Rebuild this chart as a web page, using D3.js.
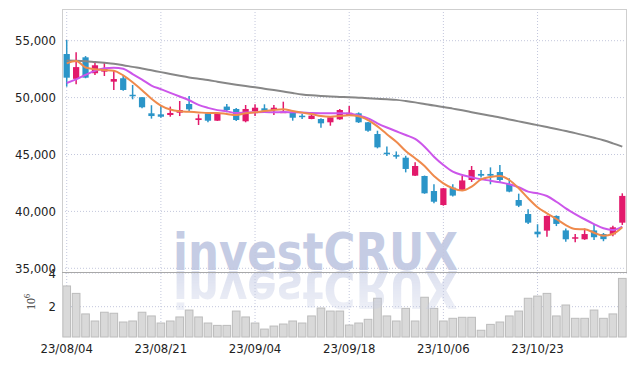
<!DOCTYPE html>
<html><head><meta charset="utf-8">
<script src="https://cdn.jsdelivr.net/npm/d3@7/dist/d3.min.js"></script>
<style>
html,body{margin:0;padding:0;background:#fff;}
svg{display:block;}
.lbl{font-family:"DejaVu Sans Condensed","DejaVu Sans",sans-serif;font-stretch:condensed;font-size:13px;fill:#222;}
</style></head><body>
<svg id="chart" width="635" height="366"></svg>
<script>
const dates = ["23/08/04","23/08/07","23/08/08","23/08/09","23/08/10","23/08/11","23/08/14","23/08/16","23/08/17","23/08/18",
"23/08/21","23/08/22","23/08/23","23/08/24","23/08/25","23/08/28","23/08/29","23/08/30","23/08/31","23/09/01",
"23/09/04","23/09/05","23/09/06","23/09/07","23/09/08","23/09/11","23/09/12","23/09/13","23/09/14","23/09/15",
"23/09/18","23/09/19","23/09/20","23/09/21","23/09/22","23/09/25","23/09/26","23/09/27","23/10/04","23/10/05",
"23/10/06","23/10/10","23/10/11","23/10/12","23/10/13","23/10/16","23/10/17","23/10/18","23/10/19","23/10/20",
"23/10/23","23/10/24","23/10/25","23/10/26","23/10/27","23/10/30","23/10/31","23/11/01","23/11/02","23/11/03"];

const opens  = [53830,51650,53540,52140,52280,51400,51700,50250,50030,48620,48530,48470,48670,49440,48030,48620,47970,49210,49000,47920,
48820,49060,48910,48710,48670,48410,48120,48120,47830,48090,48470,48620,47830,46800,45160,44950,44720,43140,43110,41790,
40560,42090,41880,42760,43290,43290,43460,42410,41000,39770,38220,38310,39600,38330,37610,37550,38330,38010,37980,39010];
const highs  = [55060,53980,53650,53220,53110,52340,51900,51110,50050,49330,49330,49210,49700,50140,48530,48700,48650,49440,49090,49350,
49410,49410,49350,49640,48700,48560,48700,48180,48290,49000,49260,48700,47850,47090,45710,45270,44890,44310,43150,42380,
42060,42380,43110,43990,43640,43870,44080,42910,41560,40180,38870,39650,39650,38500,38010,38500,38900,38100,38740,41590];
const lows   = [50960,51170,51700,51990,51900,50670,50600,49850,49060,48150,48230,48320,48380,48820,47590,47830,47950,48710,47950,47830,
48380,48790,48470,48670,47970,48120,48100,47350,47530,48050,48440,47770,47000,45540,44870,44630,43430,43100,41550,40710,
40500,41300,41860,42590,42970,42380,42590,41680,40380,38890,37730,37780,38710,37340,37280,37500,37490,37380,37810,38810];
const closes = [51750,52680,51750,52840,52570,51630,50670,50170,49150,48380,48320,48650,48910,48970,48180,47970,48620,48910,48030,49000,
49110,48850,49110,48760,48230,48320,48410,47740,48270,48910,48670,47830,47090,45630,45020,44810,43730,43990,41590,40850,
42030,41390,42720,43640,43140,43140,42760,41740,40500,39010,37990,39600,38900,37550,37730,38010,37730,37560,38600,41360];

// volume in millions (axis label 10^6)
const volumes = [3.23,2.79,1.57,1.15,1.67,1.61,1.09,1.15,1.67,1.45,1.03,1.15,1.39,1.80,1.39,1.03,0.89,0.89,1.74,1.39,
1.03,0.67,0.85,0.97,1.15,1.03,1.45,1.92,1.74,1.74,0.91,1.03,1.25,2.50,1.45,1.15,1.90,1.15,2.56,1.90,
1.15,1.31,1.37,1.37,0.60,0.95,1.09,1.45,1.74,2.50,2.63,2.79,1.45,2.10,1.31,1.31,1.80,1.31,1.57,3.68];

const ma5 = [53010,53220,52650,52500,52430,52360,51950,51350,50650,49900,49300,48950,48800,48750,48700,48650,48650,48560,48470,48620,
48710,48820,48910,48970,48820,48680,48560,48380,48320,48380,48440,48370,48030,47470,46780,46120,45300,44670,43990,43110,
42470,42030,41830,42180,42820,43030,43110,42760,42030,41150,40360,39830,39330,38800,38450,38430,38130,37870,38010,38600];
const ma20 = [51280,51600,52000,52350,52570,52630,52530,52070,51580,51060,50740,50420,50100,49770,49360,49100,48900,48790,48640,48680,
48710,48730,48710,48730,48710,48690,48640,48630,48630,48620,48600,48420,48180,47740,47370,47040,46710,46370,45690,44810,
44080,43490,43200,43000,42820,42700,42560,42380,42120,41740,41590,41350,40850,40270,39770,39310,38890,38520,38370,38660];
const ma60 = [53260,53240,53200,53130,53060,52980,52850,52700,52560,52400,52240,52080,51920,51770,51650,51540,51400,51260,51130,51010,
50900,50780,50660,50530,50400,50280,50200,50140,50090,50060,50030,49990,49950,49900,49850,49800,49700,49580,49440,49300,
49180,49030,48880,48720,48560,48400,48250,48080,47910,47740,47580,47410,47240,47060,46880,46680,46470,46250,45980,45690];

const priceTicks = [35000,40000,45000,50000,55000];
const volTicks = [2,4];
const dateTicks = ["23/08/04","23/08/21","23/09/04","23/09/18","23/10/06","23/10/23"];

const svg = d3.select("#chart");
const pLeft = 62, pRight = 627, pTop = 9, pSep = 272, pVolBottom = 337;

const x = d3.scaleBand().domain(dates).range([pLeft, pRight]).paddingInner(0.08).paddingOuter(0.04);
const cx = d => x(d) + x.bandwidth() / 2;
const y = d3.scaleLinear().domain([35000, 55000]).range([268.3, 40.7]);
const yv = d3.scaleLinear().domain([0.2, 4]).range([pVolBottom, 273]);

const defs = svg.append("defs");
defs.append("clipPath").attr("id","pclip").append("rect")
  .attr("x", pLeft).attr("y", pTop).attr("width", pRight-pLeft).attr("height", pSep-pTop);
const grad = defs.append("linearGradient").attr("id","fade").attr("x1",0).attr("y1",0).attr("x2",0).attr("y2",1);
grad.append("stop").attr("offset","0%").attr("stop-color","#fff").attr("stop-opacity",1);
grad.append("stop").attr("offset","100%").attr("stop-color","#fff").attr("stop-opacity",0.4);
defs.append("mask").attr("id","wmask").attr("maskUnits","userSpaceOnUse")
  .attr("x",0).attr("y",271).attr("width",635).attr("height",45)
  .append("rect").attr("x",0).attr("y",271).attr("width",635).attr("height",45).attr("fill","url(#fade)");

const wmFont = "'DejaVu Sans', sans-serif";
// watermark
svg.append("text").text("investCRUX")
  .attr("x", 173).attr("y", 270)
  .attr("textLength", 285).attr("lengthAdjust","spacingAndGlyphs")
  .attr("font-family", wmFont).attr("font-weight","bold")
  .attr("font-size", 51).attr("fill", "#c5cce4");

// gridlines
const grid = svg.append("g").attr("stroke","#c3c7dc").attr("stroke-dasharray","1,2").attr("stroke-width",1);
grid.selectAll("line.h").data(priceTicks).join("line").attr("class","h")
  .attr("x1", pLeft).attr("x2", pRight).attr("y1", d => y(d)).attr("y2", d => y(d));
grid.selectAll("line.v").data(dateTicks).join("line").attr("class","v")
  .attr("x1", d => cx(d)).attr("x2", d => cx(d)).attr("y1", pTop).attr("y2", pVolBottom);
grid.selectAll("line.vv").data(volTicks).join("line").attr("class","vv")
  .attr("x1", pLeft).attr("x2", pRight).attr("y1", d => yv(d)).attr("y2", d => yv(d));

// volume bars
svg.append("g").selectAll("rect").data(volumes).join("rect")
  .attr("x", (d,i) => x(dates[i]) + 0.5)
  .attr("width", x.bandwidth() - 1)
  .attr("y", d => yv(d))
  .attr("height", d => pVolBottom - yv(d))
  .attr("fill", "#d9d9d9").attr("stroke", "#bcbcbc").attr("stroke-width", 1);

// watermark reflection
svg.append("g").attr("mask","url(#wmask)").append("text").text("investCRUX")
  .attr("x", 173).attr("y", 270)
  .attr("transform","translate(0,541) scale(1,-1)")
  .attr("textLength", 285).attr("lengthAdjust","spacingAndGlyphs")
  .attr("font-family", wmFont).attr("font-weight","bold")
  .attr("font-size", 51).attr("fill", "#c5cce4").attr("opacity", 0.6);

// frame
const frame = svg.append("g").attr("stroke","#cfcfcf").attr("stroke-width",1);
frame.append("line").attr("x1",pLeft).attr("x2",pRight).attr("y1",pTop+0.5).attr("y2",pTop+0.5);
frame.append("line").attr("x1",pLeft+0.5).attr("x2",pLeft+0.5).attr("y1",pTop).attr("y2",pVolBottom);
frame.append("line").attr("x1",pRight-0.5).attr("x2",pRight-0.5).attr("y1",pTop).attr("y2",pSep);
svg.append("line").attr("x1",pLeft).attr("x2",pRight).attr("y1",pSep+0.5).attr("y2",pSep+0.5)
  .attr("stroke","#a8a8a8").attr("stroke-width",1);

// candles
const upCol = "#e2196b", downCol = "#2b95c8";
const cg = svg.append("g").attr("clip-path","url(#pclip)");
const idx = d3.range(dates.length);
cg.selectAll("line.w").data(idx).join("line").attr("class","w")
  .attr("x1", i => cx(dates[i])).attr("x2", i => cx(dates[i]))
  .attr("y1", i => y(highs[i])).attr("y2", i => y(lows[i]))
  .attr("stroke", i => closes[i] >= opens[i] ? upCol : downCol).attr("stroke-width", 1.5);
const bw = x.bandwidth() * 0.72;
cg.selectAll("rect.b").data(idx).join("rect").attr("class","b")
  .attr("x", i => cx(dates[i]) - bw/2).attr("width", bw)
  .attr("y", i => y(Math.max(opens[i], closes[i])))
  .attr("height", i => Math.max(1.5, Math.abs(y(opens[i]) - y(closes[i]))))
  .attr("fill", i => closes[i] >= opens[i] ? upCol : downCol);

// moving averages
const lineGen = d3.line().x((d,i) => cx(dates[i])).y(d => y(d)).curve(d3.curveMonotoneX);
[[ma60,"#878787"],[ma20,"#cc56ea"],[ma5,"#ef8a4c"]].forEach(([arr,col]) => {
  cg.append("path").datum(arr).attr("d", lineGen).attr("fill","none")
    .attr("stroke", col).attr("stroke-width", 2).attr("stroke-linejoin","round");
});

// axes labels
svg.append("g").selectAll("text").data(priceTicks).join("text").attr("class","lbl")
  .attr("x", 56).attr("y", d => y(d)).attr("dy","0.36em").attr("text-anchor","end")
  .text(d => d3.format(",")(d));
svg.append("g").selectAll("text").data(volTicks).join("text").attr("class","lbl")
  .attr("x", 56).attr("y", d => yv(d)).attr("dy","0.36em").attr("text-anchor","end")
  .text(d => d);
svg.append("g").selectAll("text").data(dateTicks).join("text").attr("class","lbl")
  .attr("x", d => cx(d)).attr("y", 353).attr("text-anchor","middle")
  .text(d => d);

const vl = svg.append("text").attr("transform","translate(35,302) rotate(-90)")
  .attr("text-anchor","middle").attr("font-family","'Liberation Serif', serif")
  .attr("font-size", 12).attr("fill","#333");
vl.append("tspan").text("10");
vl.append("tspan").text("6").attr("font-size", 8).attr("dy", -5);
</script>
</body></html>
